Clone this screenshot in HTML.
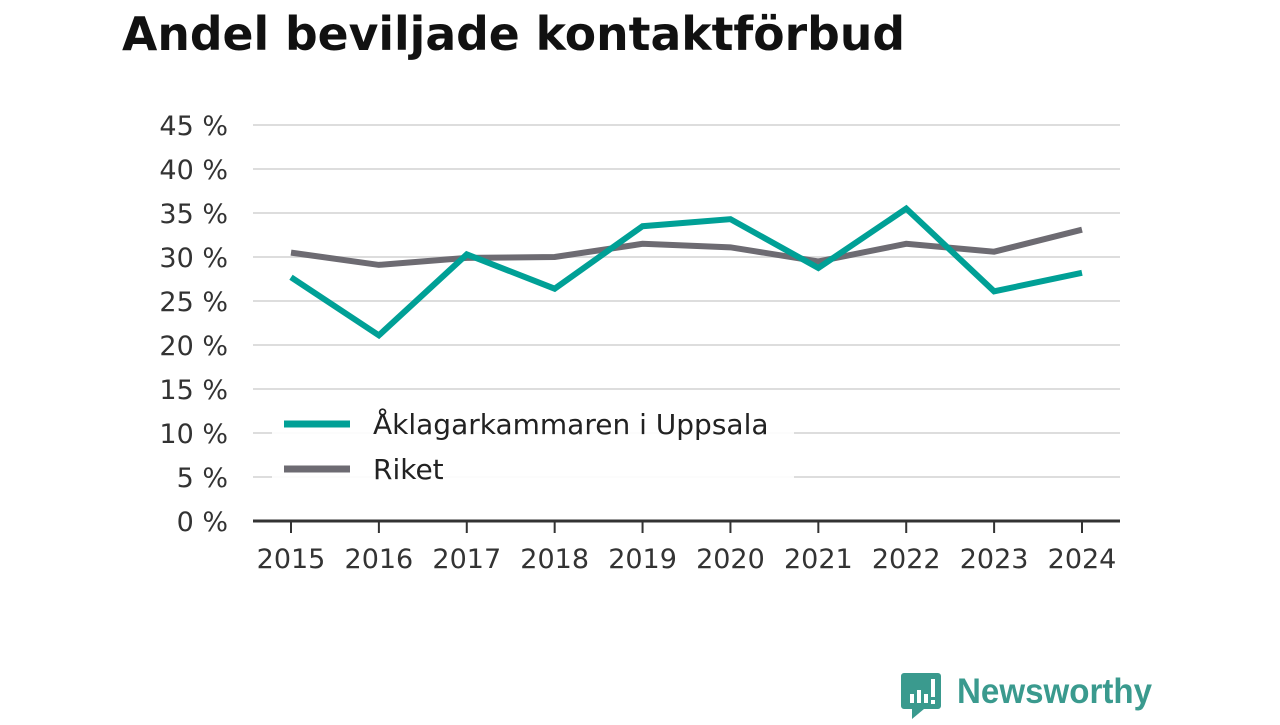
<!DOCTYPE html>
<html><head><meta charset="utf-8"><style>
body{margin:0;width:1280px;height:720px;background:#fff;overflow:hidden;font-family:"Liberation Sans","DejaVu Sans",sans-serif}
</style></head><body>
<svg width="1280" height="720">
<text x="122" y="50" font-size="46" font-weight="bold" fill="#111" font-family="DejaVu Sans, sans-serif" textLength="783" lengthAdjust="spacingAndGlyphs">Andel beviljade kontaktförbud</text>
<g id="grid"></g><g id="lines"></g>
<g>
<rect x="272" y="400" width="522" height="78" fill="#fff" opacity="0.9"></rect>
<line x1="284" y1="424" x2="350" y2="424" stroke="#00a096" stroke-width="7"></line>
<text x="373" y="434" font-size="28" fill="#222" font-family="DejaVu Sans, sans-serif">Åklagarkammaren i Uppsala</text>
<line x1="284" y1="469" x2="350" y2="469" stroke="#6d6b72" stroke-width="7"></line>
<text x="373" y="479" font-size="28" fill="#222" font-family="DejaVu Sans, sans-serif">Riket</text>
</g>
<g>
<path d="M904 673 h34 a3 3 0 0 1 3 3 v30 a3 3 0 0 1 -3 3 h-14 l-12 10 v-10 h-8 a3 3 0 0 1 -3 -3 v-30 a3 3 0 0 1 3 -3z" fill="#3a9a8e"></path>
<rect x="910" y="694" width="4" height="9" fill="#fff"></rect><rect x="917" y="690" width="4" height="13" fill="#fff"></rect><rect x="924" y="694" width="4" height="9" fill="#fff"></rect><rect x="931" y="679" width="4" height="18" fill="#fff"></rect><rect x="931" y="700" width="4" height="4" fill="#fff"></rect>
<text x="957" y="703" font-size="35" fill="#3a9a8e" font-weight="bold" font-family="Liberation Sans, sans-serif" textLength="195" lengthAdjust="spacingAndGlyphs">Newsworthy</text>
</g>
</svg>
<script>
const years=["2015","2016","2017","2018","2019","2020","2021","2022","2023","2024"];
const uppsala=[27.7,21.1,30.3,26.4,33.5,34.3,28.75,35.5,26.1,28.2];
const riket=[30.5,29.1,29.9,30.0,31.5,31.1,29.5,31.5,30.6,33.1];
const yTicks=[0,5,10,15,20,25,30,35,40,45];
const NS="http://www.w3.org/2000/svg";
const x=i=>291+i*(1082-291)/9;
const y=v=>521-v*(396/45);
const grid=document.getElementById('grid'),lines=document.getElementById('lines');
function mk(tag,attrs,parent){const e=document.createElementNS(NS,tag);for(const k in attrs)e.setAttribute(k,attrs[k]);parent.appendChild(e);return e;}
yTicks.forEach(t=>{
 if(t>0){const l=mk('line',{x1:253,x2:1120,y1:y(t),y2:y(t),stroke:'#ddd','stroke-width':2},grid);
 
 }
 const tx=mk('text',{x:228,y:y(t)+10,'font-size':27,fill:'#333','text-anchor':'end','font-family':'DejaVu Sans, sans-serif'},grid);
 tx.textContent=t+' %';
 
 
});
const ax=mk('line',{x1:253,x2:1120,y1:521,y2:521,stroke:'#333','stroke-width':3},grid);


years.forEach((yr,i)=>{
 const tk=mk('line',{x1:x(i),x2:x(i),y1:521,y2:533,stroke:'#333','stroke-width':2},grid);
 
 
 const t=mk('text',{x:x(i),y:568,'font-size':27,fill:'#333','text-anchor':'middle','font-family':'DejaVu Sans, sans-serif'},grid);
 t.textContent=yr;
 
 
});
function series(vals,color,name){
 const p=mk('polyline',{points:vals.map((v,i)=>x(i)+','+y(v)).join(' '),fill:'none',stroke:color,'stroke-width':6,'stroke-linejoin':'miter'},lines);
 
 
}
series(riket,'#6d6b72','line-riket');
series(uppsala,'#00a096','line-uppsala');
</script>
</body></html>
